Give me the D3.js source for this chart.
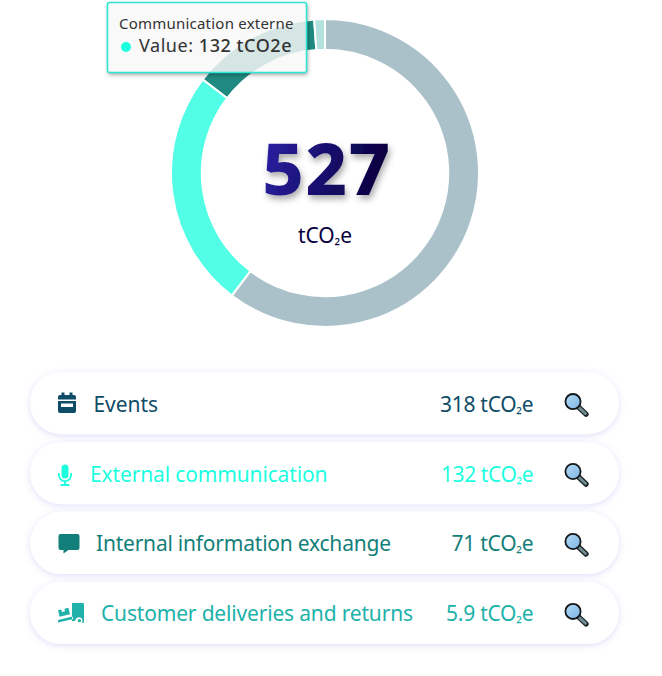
<!DOCTYPE html>
<html>
<head>
<meta charset="utf-8">
<script src="https://cdn.jsdelivr.net/npm/d3@7"></script>
<style>
  html, body { margin: 0; padding: 0; background: #fff; }
  svg { display: block; }
  text { font-family: "Noto Sans", sans-serif; }
</style>
</head>
<body>
<svg id="chart" width="662" height="676"></svg>
<script>
// Emissions by category, in tCO2e
const categories = ["Events", "External communication", "Internal information exchange", "Customer deliveries and returns"];
const values = [318, 132, 71, 5.9];
const valueLabels = ["318", "132", "71", "5.9"];
const total = "527";
const unitParts = ["tCO", "₂", "e"];
const ringColors = ["#abc1ca", "#52ffe6", "#1f8a80", "#b3e2de"];
const rowColors = ["#0f4c68", "#1cffdf", "#137f7a", "#20b2aa"];
const tooltipTitle = "Communication externe";
const tooltipLabel = "Value: ";
const tooltipValue = "132 tCO2e";

const svg = d3.select("#chart");
const defs = svg.append("defs");

const pillShadow = defs.append("filter").attr("id", "pillShadow")
  .attr("x", "-5%").attr("y", "-30%").attr("width", "110%").attr("height", "170%");
pillShadow.append("feDropShadow").attr("dx", 0).attr("dy", 1.5).attr("stdDeviation", 3)
  .attr("flood-color", "#7070e8").attr("flood-opacity", 0.24);

const tipBlur = defs.append("filter").attr("id", "tipBlur")
  .attr("x", "-10%").attr("y", "-20%").attr("width", "120%").attr("height", "150%");
tipBlur.append("feGaussianBlur").attr("stdDeviation", 2);

// Keeps the tooltip shadow outside the translucent panel
const tipW = 199, tipH = 70;
defs.append("clipPath").attr("id", "tipOutside").append("path")
  .attr("clip-rule", "evenodd")
  .attr("d", `M-20,-20 h${tipW + 40} v${tipH + 40} h${-tipW - 40} z M0,0 v${tipH} h${tipW} v${-tipH} z`);

const totalShadow = defs.append("filter").attr("id", "totalShadow")
  .attr("x", "-20%").attr("y", "-30%").attr("width", "140%").attr("height", "170%");
totalShadow.append("feDropShadow").attr("dx", 2).attr("dy", 4).attr("stdDeviation", 3)
  .attr("flood-color", "#000").attr("flood-opacity", 0.33);

const totalGradient = defs.append("linearGradient").attr("id", "totalGradient")
  .attr("x1", "0%").attr("y1", "0%").attr("x2", "100%").attr("y2", "20%");
totalGradient.append("stop").attr("offset", "0%").attr("stop-color", "#2c22a8");
totalGradient.append("stop").attr("offset", "100%").attr("stop-color", "#08003f");

const lensGradient = defs.append("linearGradient").attr("id", "lensGradient")
  .attr("x1", "0%").attr("y1", "0%").attr("x2", "100%").attr("y2", "100%");
lensGradient.append("stop").attr("offset", "0%").attr("stop-color", "#b4daf4");
lensGradient.append("stop").attr("offset", "100%").attr("stop-color", "#7db5e6");

// Writes the unit with a small subscript into a text selection
function appendUnit(sel) {
  sel.append("tspan").text(unitParts[0]);
  sel.append("tspan").style("font-size", "16px").text(unitParts[1]);
  sel.append("tspan").text(unitParts[2]);
}

// Donut
const ringCenter = [325, 173];
const pie = d3.pie().sort(null).value(d => d);
const arc = d3.arc().innerRadius(123.2).outerRadius(154);
const ring = svg.append("g").attr("transform", `translate(${ringCenter})`);
ring.selectAll("path").data(pie(values)).join("path")
  .attr("d", arc)
  .attr("fill", (d, i) => ringColors[i])
  .attr("stroke", "#fff")
  .attr("stroke-width", 2);

// Centre total
svg.append("text").attr("x", ringCenter[0] + 2).attr("y", 195)
  .attr("text-anchor", "middle")
  .style("font-family", "'Noto Sans', sans-serif")
  .style("font-weight", 800).style("font-size", "72px").style("letter-spacing", "1.5px")
  .attr("fill", "url(#totalGradient)")
  .attr("filter", "url(#totalShadow)")
  .text(total);
svg.append("text").attr("x", ringCenter[0]).attr("y", 243)
  .attr("text-anchor", "middle")
  .style("font-size", "21px").attr("fill", "#0a0040")
  .attr("textLength", 54)
  .call(appendUnit);

// Rows
const rowScale = d3.scaleBand().domain(d3.range(categories.length)).range([372, 644]).paddingInner(0.11).paddingOuter(0);
const iconPaths = [
  // calendar
  "M-9,-7 a2,2 0 0 1 2,-2 h1.5 v-2.5 h3 v2.5 h5 v-2.5 h3 v2.5 h1.5 a2,2 0 0 1 2,2 v2.5 h-18 z M-9,-3 h18 v10 a2,2 0 0 1 -2,2 h-14 a2,2 0 0 1 -2,-2 z M-6,-0.5 v3.5 h12 v-3.5 z",
  // microphone
  "M-3.5,-6 a3.5,3.5 0 0 1 7,0 v7 a3.5,3.5 0 0 1 -7,0 z M-7,-1 h1.8 v2 a5.2,5.2 0 0 0 10.4,0 v-2 h1.8 v2 a7,7 0 0 1 -6.1,6.9 v2.1 h3.5 v2 h-8.8 v-2 h3.5 v-2.1 a7,7 0 0 1 -6.1,-6.9 z",
  // speech bubble
  "M-8.5,-10 h17 a2,2 0 0 1 2,2 v12 a2,2 0 0 1 -2,2 h-9 l-5,3.5 v-3.5 h-3 a2,2 0 0 1 -2,-2 v-12 a2,2 0 0 1 2,-2 z",
  // parcel on a hand truck
  "M1,-11 h11 a1,1 0 0 1 1,1 v18 a1,1 0 0 1 -1,1 h-1 a3.6,3.6 0 1 0 -6.6,-2.4 l-3.4,0.8 z M-13,-3.6 l3.4,-0.9 l0.6,2.6 l3,-0.7 l-0.6,-2.6 l4,-1 l1.6,6.6 l-10.4,2.5 z M-13,6 l14.5,-3.5 l0.7,2.6 l-15.2,3.6 z M8.4,8.4 a1.7,1.7 0 1 1 0.01,0 z"
];
const iconCenterX = [67, 65, 69, 71];
const labelX = [93.5, 90, 96, 101];
const labelWidths = [64.5, 237.5, 295, 312];
const amountWidths = [93.5, 92.5, 82, 87.5];
const row = svg.append("g").selectAll("g").data(categories).join("g")
  .attr("transform", (d, i) => `translate(0,${rowScale(i)})`);
const h = rowScale.bandwidth();

row.append("rect").attr("x", 30).attr("width", 589).attr("height", h).attr("rx", h / 2)
  .attr("fill", "#fff").attr("filter", "url(#pillShadow)");
row.append("path").attr("d", (d, i) => iconPaths[i])
  .attr("fill-rule", "evenodd")
  .attr("transform", (d, i) => `translate(${iconCenterX[i]},${h / 2 + 1})`)
  .attr("fill", (d, i) => rowColors[i]);
row.append("text").attr("x", (d, i) => labelX[i]).attr("y", h / 2 + 8.5)
  .style("font-size", "21px").attr("fill", (d, i) => rowColors[i])
  .attr("textLength", (d, i) => labelWidths[i])
  .text(d => d);
row.append("text").attr("x", (d, i) => 533.5 - amountWidths[i]).attr("y", h / 2 + 8.5)
  .style("font-size", "21px").attr("fill", (d, i) => rowColors[i])
  .attr("textLength", (d, i) => amountWidths[i])
  .each(function (d, i) {
    const t = d3.select(this);
    t.append("tspan").text(`${valueLabels[i]} `);
    appendUnit(t);
  });

// Magnifying glass at the end of each row
const lens = row.append("g").attr("transform", `translate(574.5,${h / 2})`);
lens.append("line").attr("x1", 3).attr("y1", 3).attr("x2", 11.5).attr("y2", 11)
  .attr("stroke", "#1c2326").attr("stroke-width", 5.4).attr("stroke-linecap", "round");
lens.append("line").attr("x1", 4).attr("y1", 4).attr("x2", 11).attr("y2", 10.5)
  .attr("stroke", "#6f8c92").attr("stroke-width", 2.8).attr("stroke-linecap", "round");
lens.append("circle").attr("cx", -1.5).attr("cy", -1.5).attr("r", 7.6)
  .attr("fill", "url(#lensGradient)").attr("stroke", "#14181b").attr("stroke-width", 1.8);

// Tooltip for the highlighted slice
const tip = svg.append("g").attr("transform", "translate(107.5,2.5)");
tip.append("g").attr("clip-path", "url(#tipOutside)")
  .append("rect").attr("x", 1).attr("y", 2).attr("width", tipW).attr("height", tipH)
  .attr("fill", "#000").attr("fill-opacity", 0.4).attr("filter", "url(#tipBlur)");
tip.append("rect").attr("width", tipW).attr("height", tipH).attr("rx", 2)
  .attr("fill", "#f8f8f8").attr("fill-opacity", 0.84)
  .attr("stroke", "#2ee8d2").attr("stroke-width", 1.6);
tip.append("text").attr("x", 11.5).attr("y", 26.5)
  .style("font-size", "15px").attr("fill", "#333")
  .attr("textLength", 174.5)
  .text(tooltipTitle);
tip.append("circle").attr("cx", 18.5).attr("cy", 44.5).attr("r", 5).attr("fill", "#1cffdf");
const tipLine = tip.append("text").attr("x", 31.5).attr("y", 49.5)
  .style("font-size", "18px").style("letter-spacing", "0.5px").attr("fill", "#333")
  .attr("textLength", 153);
tipLine.append("tspan").text(tooltipLabel);
tipLine.append("tspan").style("font-weight", 500).text(tooltipValue);
</script>
</body>
</html>
